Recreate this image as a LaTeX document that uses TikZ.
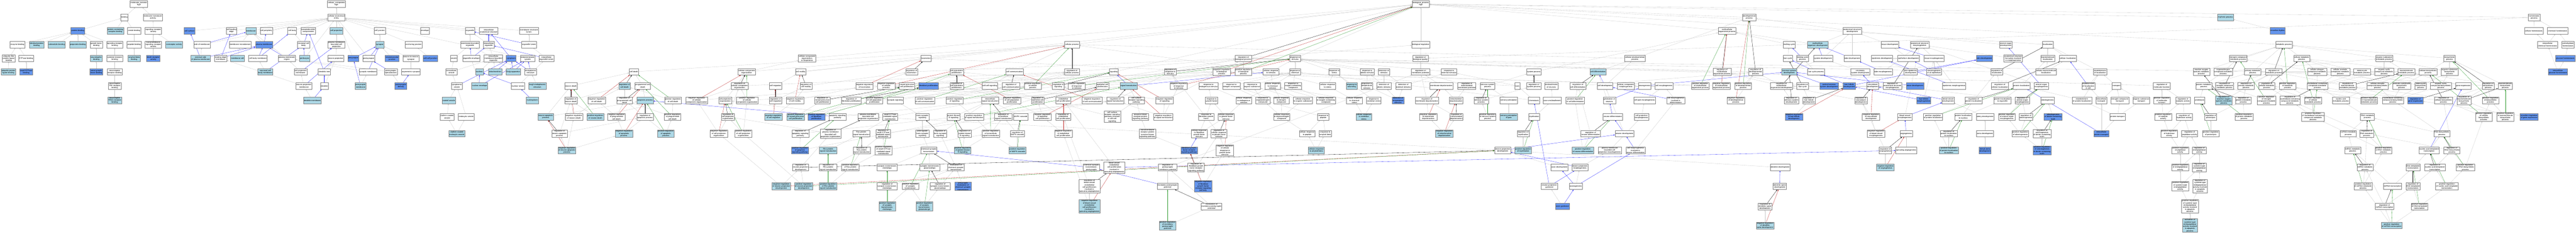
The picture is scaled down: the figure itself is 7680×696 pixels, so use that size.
\documentclass[tikz,border=0pt]{standalone}
\usepackage{fontspec}
\setmainfont{Liberation Sans}
\usetikzlibrary{shadows, arrows, positioning}
\definecolor{go_lightblue}{RGB}{173, 216, 230}
\definecolor{go_blue}{RGB}{100, 149, 237}
\definecolor{edge_gray}{RGB}{200, 200, 200}
\definecolor{edge_red}{RGB}{190, 40, 40}
\definecolor{edge_green}{RGB}{40, 150, 40}
\definecolor{edge_blue}{RGB}{40, 40, 255}
\tikzset {
  term/.style = {draw=black!50, line width=0.7pt, fill=white, align=center, minimum height=19pt, inner xsep=1.5pt, inner ysep=1pt, font=\fontsize{5.8}{6.5}\selectfont, drop shadow={shadow xshift=0.5pt, shadow yshift=-0.5pt, opacity=0.4}},
  lb/.style = {term, fill=go_lightblue},
  cf/.style = {term, fill=go_blue},
  isa/.style = {->, >=latex', line width=0.5pt, color=edge_gray},
  partof/.style = {isa, color=edge_blue},
  negreg/.style = {isa, color=edge_red},
  posreg/.style = {isa, color=edge_green},
  reg/.style = {isa, color=black}
}
\pgfdeclarelayer{background}
\pgfsetlayers{background,main}
\begin{document}
\begin{tikzpicture}[x=1pt, y=1pt]
  \useasboundingbox (0,0) rectangle (7680,-696);
  % molecular function
  \node[term] (mf) at (414,-12) {molecular\_function\\Ngfr};
  \node[term] (bind) at (371,-52) {binding};
  \node[term] (mtra) at (456,-52) {molecular transducer\\activity};
  \node[cf] (pbind) at (232,-92) {protein binding};
  \node[lb] (pcbind) at (344,-92) {protein-containing\\complex binding};
  \node[term] (amid) at (400,-92) {amide binding};
  \node[term] (sra) at (457,-92) {signaling receptor\\activity};
  \node[term] (enzb) at (52,-133) {enzyme binding};
  \node[lb] (idpb) at (109,-133) {identical protein\\binding};
  \node[lb] (calm) at (169,-133) {calmodulin binding};
  \node[lb] (prepb) at (232,-133) {preprotein binding};
  \node[term] (gfb) at (287,-133) {growth factor\\binding};
  \node[term] (srb) at (342,-133) {signaling receptor\\binding};
  \node[term] (pepb) at (400,-133) {peptide binding};
  \node[term] (tmsra) at (457,-133) {transmembrane\\signaling receptor\\activity};
  \node[lb] (corec) at (519,-133) {coreceptor activity};
  \node[term] (ubl) at (26,-174) {ubiquitin-like\\protein ligase\\binding};
  \node[term] (gtpb) at (78,-174) {GTPase binding};
  \node[lb] (ntb) at (287,-174) {neurotrophin\\binding};
  \node[term] (crb) at (342,-174) {cytokine receptor\\binding};
  \node[lb] (abb) at (400,-174) {amyloid-beta\\binding};
  \node[cf] (drec) at (457,-174) {death receptor\\activity};
  \node[lb] (upl) at (25,-214) {ubiquitin protein\\ligase binding};
  \node[cf] (sgtp) at (78,-214) {small GTPase\\binding};
  \node[cf] (ngfb) at (287,-214) {nerve growth\\factor binding};
  \node[term] (ntrb) at (342,-214) {neurotrophin\\receptor binding};
  \node[term] (trkb) at (342,-256) {neurotrophin\\TRK receptor\\binding};
  \node[lb] (trka) at (342,-299) {neurotrophin\\TRKA receptor\\binding};
  % cellular component
  \node[term] (cc) at (1003,-12) {cellular\_component\\Ngfr};
  \node[term] (cae) at (1003,-52) {cellular anatomical\\entity};
  \node[cf] (csurf) at (565,-92) {cell surface};
  \node[term] (cle) at (690,-92) {cell leading\\edge};
  \node[lb] (memb) at (748,-92) {membrane};
  \node[term] (cper) at (794,-92) {cell periphery};
  \node[term] (cbody) at (871,-92) {cell body};
  \node[term] (somd) at (919,-92) {somatodendritic\\compartment};
  \node[lb] (cproj) at (1003,-92) {cell projection};
  \node[term] (cjun) at (1132,-92) {cell junction};
  \node[term] (envl) at (1267,-92) {envelope};
  \node[term] (orgl) at (1401,-92) {organelle};
  \node[term] (ias) at (1457,-92) {intracellular\\anatomical structure};
  \node[term] (mel) at (1577,-92) {membrane-enclosed\\lumen};
  \node[term] (sidem) at (602,-133) {side of membrane};
  \node[term] (mmd) at (716,-133) {membrane microdomain};
  \node[cf] (pm) at (787,-133) {plasma membrane};
  \node[term] (ncb) at (905,-133) {neuronal cell\\body};
  \node[term] (pmbcp) at (1003,-133) {plasma membrane\\bounded cell\\projection};
  \node[lb] (syn) at (1132,-133) {synapse};
  \node[term] (anch) at (1233,-133) {anchoring junction};
  \node[term] (mbo) at (1401,-133) {membrane-bounded\\organelle};
  \node[term] (iorg) at (1457,-133) {intracellular\\organelle};
  \node[term] (orglum) at (1577,-133) {organelle lumen};
  \node[lb] (espm) at (598,-174) {external side\\of plasma membrane};
  \node[term] (lem) at (658,-174) {leading edge\\membrane};
  \node[lb] (mraft) at (708,-174) {membrane raft};
  \node[term] (cbm) at (769,-174) {cell body membrane};
  \node[term] (pmr) at (855,-174) {plasma membrane\\region};
  \node[lb] (peri) at (908,-174) {perikaryon};
  \node[term] (nproj) at (1001,-174) {neuron projection};
  \node[cf] (presyn) at (1053,-174) {presynapse};
  \node[term] (postsyn) at (1099,-174) {postsynapse};
  \node[cf] (nmj) at (1169,-174) {neuromuscular\\junction};
  \node[term] (n2n) at (1225,-174) {neuron to neuron\\synapse};
  \node[cf] (ccj) at (1283,-174) {cell-cell junction};
  \node[term] (ves) at (1353,-174) {vesicle};
  \node[term] (oenv) at (1405,-174) {organelle envelope};
  \node[term] (imbo) at (1471,-174) {intracellular\\membrane-bounded\\organelle};
  \node[cf] (cyto) at (1524,-174) {cytoplasm};
  \node[term] (endo) at (1573,-174) {endomembrane\\system};
  \node[term] (iol) at (1629,-174) {intracellular\\organelle lumen};
  \node[lb] (ncbm) at (791,-214) {neuronal cell\\body membrane};
  \node[term] (cpm) at (896,-214) {cell projection\\membrane};
  \node[term] (dtree) at (967,-214) {dendritic tree};
  \node[term] (synm) at (1097,-214) {synaptic membrane};
  \node[term] (pss) at (1165,-214) {postsynaptic\\specialization};
  \node[term] (asyn) at (1225,-214) {asymmetric synapse};
  \node[term] (ives) at (1346,-214) {intracellular\\vesicle};
  \node[lb] (nucl) at (1429,-214) {nucleus};
  \node[lb] (mito) at (1476,-214) {mitochondrion};
  \node[lb] (golgi) at (1530,-214) {Golgi apparatus};
  \node[term] (er) at (1582,-214) {endoplasmic\\reticulum};
  \node[term] (npm) at (906,-256) {neuron projection\\membrane};
  \node[term] (dend) at (967,-256) {dendrite};
  \node[lb] (psm) at (1075,-256) {presynaptic\\membrane};
  \node[cf] (psd) at (1195,-256) {postsynaptic\\density};
  \node[term] (cves) at (1362,-256) {cytoplasmic\\vesicle};
  \node[lb] (nenv) at (1430,-256) {nuclear envelope};
  \node[term] (nlum) at (1544,-256) {nuclear lumen};
  \node[lb] (rer) at (1602,-256) {rough endoplasmic\\reticulum};
  \node[lb] (dmem) at (931,-299) {dendrite membrane};
  \node[lb] (coves) at (1338,-299) {coated vesicle};
  \node[lb] (nplasm) at (1587,-299) {nucleoplasm};
  \node[term] (ccv) at (1333,-348) {clathrin-coated\\vesicle};
  \node[term] (endv) at (1390,-348) {endocytic vesicle};
  \node[lb] (ccev) at (1362,-398) {clathrin-coated\\endocytic vesicle};
  % biological process, upper rows
  \node[term] (bp) at (4236,-12) {biological\_process\\Ngfr};
  \node[term] (devp) at (5215,-52) {developmental\\process};
  \node[lb] (rhyth) at (6635,-52) {rhythmic process};
  \node[term] (homeo) at (7555,-52) {homeostatic\\process};
  \node[term] (mop) at (5149,-92) {multicellular\\organismal process};
  \node[term] (asd) at (5522,-92) {anatomical structure\\development};
  \node[cf] (circ) at (6790,-92) {circadian rhythm};
  \node[term] (chom) at (7554,-92) {cellular homeostasis};
  \node[term] (chemh) at (7625,-92) {chemical homeostasis};
  \node[term] (cp) at (3196,-133) {cellular process};
  \node[term] (breg) at (4236,-133) {biological regulation};
  \node[term] (molt) at (5334,-133) {molting cycle};
  \node[lb] (mod) at (5419,-133) {multicellular\\organism development};
  \node[term] (tisd) at (5634,-133) {tissue development};
  \node[term] (asm) at (5723,-133) {anatomical structure\\morphogenesis};
  \node[term] (aod) at (5980,-133) {animal organ\\development};
  \node[term] (loc) at (6105,-133) {localization};
  \node[term] (metp) at (6809,-133) {metabolic process};
  \node[term] (ichem) at (7595,-133) {intracellular\\chemical homeostasis};
  \node[term] (carbh) at (7656,-133) {carbohydrate\\homeostasis};
  \node[term] (ccob) at (2406,-174) {cellular component\\organization\\or biogenesis};
  \node[term] (locom) at (2761,-174) {locomotion};
  \node[term] (rbp) at (3707,-174) {regulation of\\biological process};
  \node[term] (rts) at (3861,-174) {response to\\stimulus};
  \node[term] (rbq) at (4235,-174) {regulation of\\biological quality};
  \node[term] (cdp) at (4874,-174) {cellular developmental\\process};
  \node[term] (hairc) at (5330,-174) {hair cycle};
  \node[term] (mcp) at (5374,-174) {molting cycle\\process};
  \node[term] (sysd) at (5435,-174) {system development};
  \node[term] (tubed) at (5522,-174) {tube development};
  \node[term] (epid) at (5611,-174) {epidermis development};
  \node[term] (epit) at (5690,-174) {epithelium development};
  \node[term] (tism) at (5766,-174) {tissue morphogenesis};
  \node[cf] (skin) at (5916,-174) {skin development};
  \node[term] (asfm) at (6002,-174) {anatomical structure\\formation involved\\in morphogenesis};
  \node[term] (mloc) at (6105,-174) {macromolecule\\localization};
  \node[term] (cloc) at (6165,-174) {cellular localization};
  \node[term] (ncmp) at (6673,-174) {nitrogen compound\\metabolic process};
  \node[term] (cmp) at (6862,-174) {cellular metabolic\\process};
  \node[term] (osmp) at (7108,-174) {organic substance\\metabolic process};
  \node[term] (biosyn) at (7303,-174) {biosynthetic\\process};
  \node[cf] (glch) at (7648,-174) {glucose homeostasis};
  % row 5
  \node[term] (cdeath) at (1890,-214) {cell death};
  \node[term] (ccorg) at (2226,-214) {cellular component\\organization};
  \node[term] (cmot) at (2387,-214) {cell motility};
  \node[term] (rloc) at (2718,-214) {regulation of\\locomotion};
  \node[term] (cpp) at (2852,-214) {cell population\\proliferation};
  \node[term] (ccom) at (3025,-214) {cell communication};
  \node[term] (rcp) at (3196,-214) {regulation of\\cellular process};
  \node[term] (sig) at (3321,-214) {signaling};
  \node[term] (rrs) at (3489,-214) {regulation of\\response to\\stimulus};
  \node[term] (nrbp) at (3642,-214) {negative regulation\\of biological\\process};
  \node[term] (prbp) at (3707,-214) {positive regulation\\of biological\\process};
  \node[term] (crs) at (3789,-214) {cellular response\\to stimulus};
  \node[term] (rchem) at (3861,-214) {response to\\chemical};
  \node[term] (rstress) at (3978,-214) {response to\\stress};
  \node[term] (rabio) at (4076,-214) {response to\\abiotic stimulus};
  \node[term] (dstim) at (4126,-214) {detection of\\stimulus};
  \node[term] (rmp) at (4235,-214) {regulation of\\membrane potential};
  \node[term] (rext) at (4320,-214) {response to\\external stimulus};
  \node[term] (sysp) at (4573,-214) {system process};
  \node[lb] (cdiff) at (4764,-214) {cell differentiation};
  \node[term] (rmop) at (5134,-214) {regulation of\\multicellular\\organismal process};
  \node[term] (rdevp) at (5234,-214) {regulation of\\developmental\\process};
  \node[lb] (nsd) at (5334,-214) {nervous system\\development};
  \node[term] (hcp) at (5414,-214) {hair cycle process};
  \node[term] (csd) at (5546,-214) {circulatory\\system development};
  \node[term] (tubem) at (5614,-214) {tube morphogenesis};
  \node[term] (sepd) at (5696,-214) {skin epidermis\\development};
  \node[term] (moe) at (5766,-214) {morphogenesis\\of an epithelium};
  \node[term] (rloc2) at (5953,-214) {regulation of\\localization};
  \node[term] (cml) at (6100,-214) {cellular macromolecule\\localization};
  \node[term] (eloc) at (6261,-214) {establishment\\of localization};
  \node[term] (rosmp) at (6563,-214) {reactive oxygen\\species metabolic\\process};
  \node[term] (oncmp) at (6628,-214) {organonitrogen\\compound metabolic\\process};
  \node[term] (pmp) at (6716,-214) {primary metabolic\\process};
  \node[term] (rmetp) at (6779,-214) {regulation of\\metabolic process};
  \node[term] (cncmp) at (6908,-214) {cellular nitrogen\\compound metabolic\\process};
  \node[term] (cacmp) at (6977,-214) {cellular aromatic\\compound metabolic\\process};
  \node[term] (hmp) at (7042,-214) {heterocycle\\metabolic process};
  \node[term] (occmp) at (7108,-214) {organic cyclic\\compound metabolic\\process};
  \node[term] (mmp) at (7174,-214) {macromolecule\\metabolic process};
  \node[term] (cbp) at (7239,-214) {cellular biosynthetic\\process};
  \node[term] (osbp) at (7303,-214) {organic substance\\biosynthetic\\process};
  \node[cf] (iglch) at (7626,-214) {intracellular\\glucose homeostasis};
  % row 6
  \node[term] (ndeath) at (1702,-256) {neuron death};
  \node[lb] (rcd) at (1862,-256) {regulation of\\cell death};
  \node[term] (pcd) at (1916,-256) {programmed cell\\death};
  \node[term] (rccorg) at (2205,-256) {regulation of\\cellular component\\organization};
  \node[term] (cmig) at (2312,-256) {cell migration};
  \node[term] (rcmot) at (2403,-256) {regulation of\\cell motility};
  \node[term] (nrloc) at (2577,-256) {negative regulation\\of locomotion};
  \node[term] (nrcp) at (2642,-256) {negative regulation\\of cellular\\process};
  \node[term] (npcp) at (2704,-256) {neural precursor\\cell proliferation};
  \node[cf] (fibp) at (2768,-256) {fibroblast proliferation};
  \node[term] (rcpp) at (2852,-256) {regulation of\\cell population\\proliferation};
  \node[term] (ccsig) at (2951,-256) {cell-cell signaling};
  \node[term] (rccom) at (3014,-256) {regulation of\\cell communication};
  \node[term] (prcp) at (3079,-256) {positive regulation\\of cellular\\process};
  \node[term] (rsig) at (3155,-256) {regulation of\\signaling};
  \node[term] (prrs) at (3210,-256) {positive regulation\\of response\\to stimulus};
  \node[term] (epp) at (3287,-256) {epithelial cell\\proliferation};
  \node[lb] (st) at (3365,-256) {signal transduction};
  \node[term] (nrrs) at (3514,-256) {negative regulation\\of response\\to stimulus};
  \node[term] (rendo) at (3603,-256) {response to\\endogenous stimulus};
  \node[term] (rnc) at (3671,-256) {response to\\nitrogen compound};
  \node[term] (ros) at (3733,-256) {response to\\organic substance};
  \node[term] (crcs) at (3794,-256) {cellular response\\to chemical\\stimulus};
  \node[term] (rocc) at (3855,-256) {response to\\oxygen-containing\\compound};
  \node[term] (crst) at (3958,-256) {cellular response\\to stress};
  \node[lb] (rwound) at (4030,-256) {response to\\wounding};
  \node[term] (rtemp) at (4075,-256) {response to\\temperature\\stimulus};
  \node[term] (dabio) at (4126,-256) {detection of\\abiotic stimulus};
  \node[term] (dext) at (4184,-256) {detection of\\external stimulus};
  \node[term] (mdep) at (4297,-256) {membrane depolarization};
  \node[term] (rmmp) at (4373,-256) {regulation of\\mitochondrial\\membrane potential};
  \node[term] (nsp) at (4435,-256) {nervous system\\process};
  \node[term] (taxis) at (4524,-256) {taxis};
  \node[term] (rsysp) at (4573,-256) {regulation of\\system process};
  \node[term] (ensh) at (4625,-256) {ensheathment\\of neurons};
  \node[term] (rcdiff) at (4704,-256) {regulation of\\cell differentiation};
  \node[term] (cdev) at (4785,-256) {cell development};
  \node[term] (ccm) at (4847,-256) {cellular component\\morphogenesis};
  \node[term] (neurog) at (4903,-256) {neurogenesis};
  \node[term] (cmorph) at (4961,-256) {cell morphogenesis};
  \node[term] (prmop) at (5069,-256) {positive regulation\\of multicellular\\organismal process};
  \node[term] (nrmop) at (5132,-256) {negative regulation\\of multicellular\\organismal process};
  \node[term] (prdevp) at (5197,-256) {positive regulation\\of developmental\\process};
  \node[term] (rmod) at (5311,-256) {regulation of\\multicellular\\organismal development};
  \node[term] (rhc) at (5374,-256) {regulation of\\hair cycle};
  \node[cf] (cnsd) at (5453,-256) {central nervous\\system development};
  \node[cf] (hfd) at (5513,-256) {hair follicle\\development};
  \node[term] (vascd) at (5583,-256) {vasculature\\development};
  \node[term] (rasm) at (5642,-256) {regulation of\\anatomical structure\\morphogenesis};
  \node[cf] (nerved) at (5709,-256) {nerve development};
  \node[term] (epim) at (5826,-256) {epidermis morphogenesis};
  \node[term] (rcloc) at (5962,-256) {regulation of\\cellular localization};
  \node[term] (ploc) at (6027,-256) {protein localization};
  \node[term] (aom) at (6086,-256) {animal organ\\morphogenesis};
  \node[term] (elic) at (6226,-256) {establishment\\of localization\\in cell};
  \node[term] (transp) at (6310,-256) {transport};
  \node[term] (rmf) at (6445,-256) {regulation of\\molecular function};
  \node[term] (protmp) at (6570,-256) {protein metabolic\\process};
  \node[term] (rncmp) at (6632,-256) {regulation of\\nitrogen compound\\metabolic process};
  \node[term] (rpmp) at (6696,-256) {regulation of\\primary metabolic\\process};
  \node[term] (rcmp) at (6758,-256) {regulation of\\cellular metabolic\\process};
  \node[term] (prmetp) at (6820,-256) {positive regulation\\of metabolic\\process};
  \node[term] (nbcmp) at (6909,-256) {nucleobase-containing\\compound metabolic\\process};
  \node[term] (rmmp2) at (6999,-256) {regulation of\\macromolecule\\metabolic process};
  \node[term] (cncbp) at (7088,-256) {cellular nitrogen\\compound biosynthetic\\process};
  \node[term] (acbp) at (7160,-256) {aromatic compound\\biosynthetic\\process};
  \node[term] (hbp) at (7217,-256) {heterocycle\\biosynthetic\\process};
  \node[term] (occbp) at (7277,-256) {organic cyclic\\compound biosynthetic\\process};
  \node[term] (gexp) at (7344,-256) {gene expression};
  \node[term] (rbiosyn) at (7418,-256) {regulation of\\biosynthetic\\process};
  \node[term] (mbp) at (7469,-256) {macromolecule\\biosynthetic\\process};
  % row 7
  \node[term] (rnd) at (1702,-299) {regulation of\\neuron death};
  \node[term] (nrcd) at (1779,-299) {negative regulation\\of cell death};
  \node[term] (rpcd) at (1862,-299) {regulation of\\programmed cell\\death};
  \node[lb] (apop) at (1923,-299) {apoptotic process};
  \node[term] (prcd) at (2006,-299) {positive regulation\\of cell death};
  \node[term] (nrccorg) at (2077,-299) {negative regulation\\of cellular\\component organization};
  \node[term] (cpo) at (2162,-299) {cell projection\\organization};
  \node[term] (prccorg) at (2227,-299) {positive regulation\\of cellular\\component organization};
  \node[term] (rcmig) at (2312,-299) {regulation of\\cell migration};
  \node[term] (nrcmot) at (2370,-299) {negative regulation\\of cell motility};
  \node[term] (rnpcp) at (2452,-299) {regulation of\\neural precursor\\cell proliferation};
  \node[term] (rfibp) at (2538,-299) {regulation of\\fibroblast proliferation};
  \node[term] (prcpp) at (2607,-299) {positive regulation\\of cell population\\proliferation};
  \node[term] (synsig) at (2669,-299) {synaptic signaling};
  \node[term] (prccom) at (2757,-299) {positive regulation\\of cell communication};
  \node[term] (prsig) at (2846,-299) {positive regulation\\of signaling};
  \node[term] (ist) at (2952,-299) {intracellular\\signal transduction};
  \node[term] (nrcpp) at (3017,-299) {negative regulation\\of cell population\\proliferation};
  \node[term] (repp) at (3094,-299) {regulation of\\epithelial cell\\proliferation};
  \node[term] (endp) at (3170,-299) {endothelial\\cell proliferation};
  \node[term] (nrccom) at (3256,-299) {negative regulation\\of cell communication};
  \node[term] (rst) at (3325,-299) {regulation of\\signal transduction};
  \node[term] (csrsp) at (3388,-299) {cell surface\\receptor signaling\\pathway};
  \node[term] (nrsig) at (3472,-299) {negative regulation\\of signaling};
  \node[term] (rgf) at (3612,-299) {response to\\growth factor};
  \node[term] (crendo) at (3708,-299) {cellular response\\to endogenous\\stimulus};
  \node[term] (rongc) at (3765,-299) {response to\\organonitrogen\\compound};
  \node[term] (crnc) at (3820,-299) {cellular response\\to nitrogen\\compound};
  \node[term] (cros) at (3884,-299) {cellular response\\to organic substance};
  \node[term] (crocc) at (3953,-299) {cellular response\\to oxygen-containing\\compound};
  \node[term] (crchs) at (4038,-299) {cellular response\\to chemical\\stress};
  \node[term] (roxs) at (4096,-299) {response to\\oxidative stress};
  \node[cf] (dtemp) at (4168,-299) {detection of\\temperature\\stimulus};
  \node[term] (rmdep) at (4254,-299) {regulation of\\membrane depolarization};
  \node[term] (mitod) at (4341,-299) {mitochondrial\\depolarization};
  \node[term] (rnsp) at (4416,-299) {regulation of\\nervous system\\process};
  \node[term] (sensp) at (4498,-299) {sensory perception};
  \node[term] (chemot) at (4573,-299) {chemotaxis};
  \node[term] (axens) at (4628,-299) {axon ensheathment};
  \node[term] (prcdiff) at (4696,-299) {positive regulation\\of cell differentiation};
  \node[term] (genn) at (4798,-299) {generation of\\neurons};
  \node[term] (cpm2) at (4903,-299) {cell part morphogenesis};
  \node[term] (cmid) at (4996,-299) {cell morphogenesis\\involved in\\differentiation};
  \node[term] (nrdevp) at (5175,-299) {negative regulation\\of developmental\\process};
  \node[term] (rnsd) at (5341,-299) {regulation of\\nervous system\\development};
  \node[term] (rhfd) at (5393,-299) {regulation of\\hair follicle\\development};
  \node[term] (rvascd) at (5548,-299) {regulation of\\vasculature\\development};
  \node[cf] (hfm) at (5735,-299) {hair follicle\\morphogenesis};
  \node[term] (bvd) at (5808,-299) {blood vessel\\development};
  \node[term] (rploc) at (5884,-299) {regulation of\\protein localization};
  \node[term] (plo) at (5970,-299) {protein localization\\to organelle};
  \node[term] (raom) at (6029,-299) {regulation of\\animal organ\\morphogenesis};
  \node[term] (odont) at (6104,-299) {odontogenesis};
  \node[term] (eploc) at (6207,-299) {establishment\\of protein localization};
  \node[term] (itrans) at (6265,-299) {intracellular\\transport};
  \node[term] (nctrans) at (6320,-299) {nitrogen compound\\transport};
  \node[term] (ostrans) at (6384,-299) {organic substance\\transport};
  \node[term] (prmf) at (6445,-299) {positive regulation\\of molecular\\function};
  \node[term] (rcat) at (6508,-299) {regulation of\\catalytic activity};
  \node[term] (proteol) at (6558,-299) {proteolysis};
  \node[lb] (rrosmp) at (6630,-299) {regulation of\\reactive oxygen\\species metabolic\\process};
  \node[term] (rprotmp) at (6688,-299) {regulation of\\protein metabolic\\process};
  \node[term] (prncmp) at (6757,-299) {positive regulation\\of nitrogen\\compound metabolic\\process};
  \node[term] (rnbcmp) at (6827,-299) {regulation of\\nucleobase-containing\\compound metabolic\\process};
  \node[term] (prcmp) at (6896,-299) {positive regulation\\of cellular\\metabolic process};
  \node[term] (nametp) at (6979,-299) {nucleic acid\\metabolic process};
  \node[term] (prmmp) at (7063,-299) {positive regulation\\of macromolecule\\metabolic process};
  \node[term] (nbcbp) at (7134,-299) {nucleobase-containing\\compound biosynthetic\\process};
  \node[cf] (rgexp) at (7201,-299) {regulation of\\gene expression};
  \node[term] (rcbp) at (7285,-299) {regulation of\\cellular biosynthetic\\process};
  \node[term] (rmbp) at (7346,-299) {regulation of\\macromolecule\\biosynthetic\\process};
  \node[term] (prbiosyn) at (7425,-299) {positive regulation\\of biosynthetic\\process};
  % row 8
  \node[lb] (nap) at (1627,-348) {neuron apoptotic\\process};
  \node[term] (nrnd) at (1711,-348) {negative regulation\\of neuron death};
  \node[lb] (prnd) at (1775,-348) {positive regulation\\of neuron death};
  \node[term] (nrpcd) at (1838,-348) {negative regulation\\of programmed\\cell death};
  \node[term] (rap) at (1923,-348) {regulation of\\apoptotic process};
  \node[term] (prpcd) at (2005,-348) {positive regulation\\of programmed\\cell death};
  \node[term] (rcpo) at (2170,-348) {regulation of\\cell projection\\organization};
  \node[lb] (nrcmig) at (2306,-348) {negative regulation\\of cell migration};
  \node[lb] (prnpcp) at (2372,-348) {positive regulation\\of neural precursor\\cell proliferation};
  \node[cf] (prfibp) at (2434,-348) {positive regulation\\of fibroblast\\proliferation};
  \node[term] (asp) at (2497,-348) {apoptotic signaling\\pathway};
  \node[term] (pmbcpo) at (2588,-348) {plasma membrane\\bounded cell\\projection organization};
  \node[term] (sgmst) at (2654,-348) {small GTPase\\mediated signal\\transduction};
  \node[term] (tss) at (2750,-348) {trans-synaptic\\signaling};
  \node[term] (pkb) at (2843,-348) {protein kinase\\B signaling};
  \node[term] (prst) at (2904,-348) {positive regulation\\of signal transduction};
  \node[term] (rist) at (2991,-348) {regulation of\\intracellular\\signal transduction};
  \node[term] (mapk) at (3043,-348) {MAPK cascade};
  \node[term] (nrepp) at (3108,-348) {negative regulation\\of epithelial\\cell proliferation};
  \node[term] (rendp) at (3170,-348) {regulation of\\endothelial\\cell proliferation};
  \node[term] (csrccs) at (3316,-348) {cell surface\\receptor signaling\\pathway involved\\in cell-cell\\signaling};
  \node[term] (elrp) at (3400,-348) {enzyme-linked\\receptor protein\\signaling pathway};
  \node[term] (nrst) at (3468,-348) {negative regulation\\of signal transduction};
  \node[term] (rfgf) at (3596,-348) {response to\\fibroblast growth\\factor};
  \node[term] (crgf) at (3655,-348) {cellular response\\to growth factor\\stimulus};
  \node[term] (crongc) at (3821,-348) {cellular response\\to organonitrogen\\compound};
  \node[term] (rpep) at (3945,-348) {response to\\peptide};
  \node[lb] (croxs) at (4066,-348) {cellular response\\to oxidative\\stress};
  \node[term] (nrmdep) at (4258,-348) {negative regulation\\of membrane\\depolarization};
  \node[term] (rmitod) at (4342,-348) {regulation of\\mitochondrial\\depolarization};
  \node[term] (prnsp) at (4435,-348) {positive regulation\\of nervous system\\process};
  \node[lb] (spain) at (4498,-348) {sensory perception\\of pain};
  \node[term] (myel) at (4574,-348) {myelination};
  \node[term] (ndiff) at (4808,-348) {neuron differentiation};
  \node[term] (cpmorph) at (4894,-348) {cell projection\\morphogenesis};
  \node[cf] (nrhfd) at (5348,-348) {negative regulation\\of hair follicle\\development};
  \node[term] (nrvascd) at (5578,-348) {negative regulation\\of vasculature\\development};
  \node[term] (bvm) at (5679,-348) {blood vessel\\morphogenesis};
  \node[term] (prploc) at (5763,-348) {positive regulation\\of protein localization};
  \node[term] (plnuc) at (5853,-348) {protein localization\\to nucleus};
  \node[term] (artd) at (5918,-348) {artery development};
  \node[term] (praom) at (5983,-348) {positive regulation\\of animal organ\\morphogenesis};
  \node[term] (rodont) at (6040,-348) {regulation of\\odontogenesis};
  \node[cf] (odt) at (6121,-348) {odontogenesis\\of dentin-containing\\tooth};
  \node[term] (ptrans) at (6313,-348) {protein transport};
  \node[term] (prcat) at (6449,-348) {positive regulation\\of catalytic\\activity};
  \node[term] (rhyd) at (6512,-348) {regulation of\\hydrolase activity};
  \node[term] (rproteol) at (6591,-348) {regulation of\\proteolysis};
  \node[term] (prprotmp) at (6690,-348) {positive regulation\\of protein metabolic\\process};
  \node[term] (prnbcmp) at (6896,-348) {positive regulation\\of nucleobase-containing\\compound metabolic\\process};
  \node[term] (rnamp) at (7058,-348) {RNA metabolic\\process};
  \node[term] (prcbp) at (7405,-348) {positive regulation\\of cellular\\biosynthetic\\process};
  \node[term] (prmbp) at (7469,-348) {positive regulation\\of macromolecule\\biosynthetic\\process};
  \node[cf] (crgexp) at (7540,-348) {circadian regulation\\of gene expression};
  % row 9
  \node[term] (rnap) at (1668,-398) {regulation of\\neuron apoptotic\\process};
  \node[lb] (nrap) at (1860,-398) {negative regulation\\of apoptotic\\process};
  \node[lb] (prap) at (1985,-398) {positive regulation\\of apoptotic\\process};
  \node[term] (nrcpo) at (2143,-398) {negative regulation\\of cell projection\\organization};
  \node[term] (prcpo) at (2216,-398) {positive regulation\\of cell projection\\organization};
  \node[term] (rasp) at (2386,-398) {regulation of\\apoptotic signaling\\pathway};
  \node[term] (rpmbcpo) at (2476,-398) {regulation of\\plasma membrane\\bounded cell\\projection organization};
  \node[term] (rasst) at (2568,-398) {Ras protein\\signal transduction};
  \node[term] (rsgmst) at (2633,-398) {regulation of\\small GTPase\\mediated signal\\transduction};
  \node[term] (atss) at (2750,-398) {anterograde\\trans-synaptic\\signaling};
  \node[term] (rtss) at (2803,-398) {regulation of\\trans-synaptic\\signaling};
  \node[term] (rpkb) at (2876,-398) {regulation of\\protein kinase\\B signaling};
  \node[term] (prist) at (2954,-398) {positive regulation\\of intracellular\\signal transduction};
  \node[term] (rmapk) at (3033,-398) {regulation of\\MAPK cascade};
  \node[term] (nrendp) at (3170,-398) {negative regulation\\of endothelial\\cell proliferation};
  \node[term] (rtkp) at (3421,-398) {transmembrane\\receptor protein\\tyrosine kinase\\signaling pathway};
  \node[term] (crfgf) at (3575,-398) {cellular response\\to fibroblast\\growth factor\\stimulus};
  \node[term] (rcrgf) at (3634,-398) {regulation of\\cellular response\\to growth factor\\stimulus};
  \node[term] (crpep) at (3897,-398) {cellular response\\to peptide};
  \node[term] (rab) at (3951,-398) {response to\\amyloid-beta};
  \node[lb] (nrmitod) at (4306,-398) {negative regulation\\of mitochondrial\\depolarization};
  \node[term] (rmyel) at (4541,-398) {regulation of\\myelination};
  \node[term] (rndiff) at (4742,-398) {regulation of\\neuron differentiation};
  \node[term] (ndev) at (4843,-398) {neuron development};
  \node[term] (nrbvm) at (5593,-398) {negative regulation\\of blood vessel\\morphogenesis};
  \node[term] (angio) at (5683,-398) {angiogenesis};
  \node[term] (rplnuc) at (5810,-398) {regulation of\\protein localization\\to nucleus};
  \node[term] (aortd) at (5918,-398) {aorta development};
  \node[term] (prodont) at (6023,-398) {positive regulation\\of odontogenesis};
  \node[term] (rodt) at (6088,-398) {regulation of\\odontogenesis\\of dentin-containing\\tooth};
  \node[cf] (iptrans) at (6265,-398) {intracellular\\protein transport};
  \node[term] (prhyd) at (6467,-398) {positive regulation\\of hydrolase\\activity};
  \node[term] (rpept) at (6528,-398) {regulation of\\peptidase activity};
  \node[term] (prproteol) at (6591,-398) {positive regulation\\of proteolysis};
  \node[term] (ncrna) at (7001,-398) {ncRNA metabolic\\process};
  \node[term] (rrnamp) at (7056,-398) {regulation of\\RNA metabolic\\process};
  \node[term] (rnabp) at (7280,-398) {RNA biosynthetic\\process};
  % row 10
  \node[lb] (nrnap) at (1690,-448) {negative regulation\\of neuron apoptotic\\process};
  \node[cf] (prasp) at (2385,-448) {positive regulation\\of apoptotic\\signaling pathway};
  \node[lb] (rhopst) at (2469,-448) {Rho protein\\signal transduction};
  \node[term] (rrasst) at (2569,-448) {regulation of\\Ras protein\\signal transduction};
  \node[term] (prsgmst) at (2634,-448) {positive regulation\\of small GTPase\\mediated signal\\transduction};
  \node[term] (cst) at (2769,-448) {chemical synaptic\\transmission};
  \node[lb] (prpkb) at (2870,-448) {positive regulation\\of protein kinase\\B signaling};
  \node[lb] (prmapk) at (3033,-448) {positive regulation\\of MAPK cascade};
  \node[cf] (fgfsp) at (3545,-448) {fibroblast growth\\factor receptor\\signaling pathway};
  \node[term] (nrcrgf) at (3652,-448) {negative regulation\\of cellular\\response to\\growth factor\\stimulus};
  \node[lb] (crab) at (3924,-448) {cellular response\\to amyloid-beta};
  \node[term] (npd) at (4480,-448) {neuron projection\\development};
  \node[lb] (prmyel) at (4541,-448) {positive regulation\\of myelination};
  \node[lb] (prndiff) at (4719,-448) {positive regulation\\of neuron differentiation};
  \node[term] (pmbcpm) at (4799,-448) {plasma membrane\\bounded cell\\projection morphogenesis};
  \node[term] (cmind) at (4876,-448) {cell morphogenesis\\involved in\\neuron differentiation};
  \node[term] (rangio) at (5621,-448) {regulation of\\angiogenesis};
  \node[term] (sangio) at (5683,-448) {sprouting angiogenesis};
  \node[lb] (prplnuc) at (5810,-448) {positive regulation\\of protein localization\\to nucleus};
  \node[cf] (daortd) at (5918,-448) {dorsal aorta\\development};
  \node[cf] (prodt) at (6088,-448) {positive regulation\\of odontogenesis\\of dentin-containing\\tooth};
  \node[term] (prpept) at (6500,-448) {positive regulation\\of peptidase\\activity};
  \node[term] (rendpept) at (6557,-448) {regulation of\\endopeptidase\\activity};
  \node[term] (mirnamp) at (7014,-448) {miRNA metabolic\\process};
  \node[term] (prrnamp) at (7106,-448) {positive regulation\\of RNA metabolic\\process};
  \node[term] (natt) at (7242,-448) {nucleic acid-templated\\transcription};
  \node[term] (rrnabp) at (7310,-448) {regulation of\\RNA biosynthetic\\process};
  % row 11
  \node[term] (rnpd) at (2387,-499) {regulation of\\neuron projection\\development};
  \node[term] (rrhost) at (2469,-499) {regulation of\\Rho protein\\signal transduction};
  \node[term] (prrasst) at (2535,-499) {positive regulation\\of Ras protein\\signal transduction};
  \node[term] (stc) at (2645,-499) {synaptic transmission,\\cholinergic};
  \node[term] (stg) at (2772,-499) {synaptic transmission,\\glutamatergic};
  \node[term] (mcst) at (2850,-499) {modulation of\\chemical synaptic\\transmission};
  \node[term] (cstp) at (3254,-499) {chemical synaptic\\transmission,\\postsynaptic};
  \node[term] (bvecp) at (3322,-499) {blood vessel\\endothelial\\cell proliferation\\involved in\\sprouting angiogenesis};
  \node[term] (rpsmp) at (3481,-499) {regulation of\\postsynaptic\\membrane potential};
  \node[term] (rfgfsp) at (3566,-499) {regulation of\\fibroblast growth\\factor receptor\\signaling pathway};
  \node[term] (axdev) at (4649,-499) {axon development};
  \node[term] (npmorph) at (4710,-499) {neuron projection\\morphogenesis};
  \node[term] (dendd) at (5307,-499) {dendrite development};
  \node[lb] (nrangio) at (5621,-499) {negative regulation\\of angiogenesis};
  \node[term] (prendpept) at (6500,-499) {positive regulation\\of endopeptidase\\activity};
  \node[term] (rcysend) at (6557,-499) {regulation of\\cysteine-type\\endopeptidase\\activity};
  \node[term] (rmirnamp) at (7051,-499) {regulation of\\miRNA metabolic\\process};
  \node[term] (dtt) at (7194,-499) {DNA-templated\\transcription};
  \node[term] (rnatt) at (7259,-499) {regulation of\\nucleic acid-templated\\transcription};
  \node[term] (prrnabp) at (7350,-499) {positive regulation\\of RNA biosynthetic\\process};
  % row 12
  \node[lb] (nrnpd) at (2329,-555) {negative regulation\\of neuron projection\\development};
  \node[lb] (prnpd) at (2396,-555) {positive regulation\\of neuron projection\\development};
  \node[lb] (prrhost) at (2469,-555) {positive regulation\\of Rho protein\\signal transduction};
  \node[term] (rstc) at (2645,-555) {regulation of\\synaptic transmission,\\cholinergic};
  \node[term] (prst2) at (2714,-555) {positive regulation\\of synaptic\\transmission};
  \node[term] (rstg) at (2803,-555) {regulation of\\synaptic transmission,\\glutamatergic};
  \node[cf] (pmcst) at (2871,-555) {presynaptic\\modulation of\\chemical synaptic\\transmission};
  \node[term] (rbvecp) at (3248,-555) {regulation of\\blood vessel\\endothelial\\cell proliferation\\involved in\\sprouting angiogenesis};
  \node[term] (epsp) at (3481,-555) {excitatory postsynaptic\\potential};
  \node[cf] (nrfgfsp) at (3587,-555) {negative regulation\\of fibroblast\\growth factor\\receptor signaling\\pathway};
  \node[term] (npg) at (4619,-555) {neuron projection\\guidance};
  \node[term] (axg) at (4698,-555) {axonogenesis};
  \node[term] (dsd) at (5306,-555) {dendritic spine\\development};
  \node[term] (prcysend) at (6500,-555) {positive regulation\\of cysteine-type\\endopeptidase\\activity};
  \node[term] (rcysap) at (6559,-555) {regulation of\\cysteine-type\\endopeptidase\\activity involved\\in apoptotic\\process};
  \node[term] (prmirnamp) at (7045,-555) {positive regulation\\of miRNA metabolic\\process};
  \node[term] (mirnat) at (7133,-555) {miRNA transcription};
  \node[term] (rdtt) at (7194,-555) {regulation of\\DNA-templated\\transcription};
  \node[term] (prnatt) at (7295,-555) {positive regulation\\of nucleic acid-templated\\transcription};
  % rows 13 and 14
  \node[lb] (prstc) at (2645,-615) {positive regulation\\of synaptic\\transmission,\\cholinergic};
  \node[lb] (prstg) at (2756,-615) {positive regulation\\of synaptic\\transmission,\\glutamatergic};
  \node[lb] (nrbvecp) at (3248,-615) {negative regulation\\of blood vessel\\endothelial\\cell proliferation\\involved in\\sprouting angiogenesis};
  \node[term] (mepsp) at (3612,-615) {modulation of\\excitatory postsynaptic\\potential};
  \node[cf] (axguid) at (4658,-615) {axon guidance};
  \node[term] (rdsd) at (5262,-615) {regulation of\\dendritic spine\\development};
  \node[term] (prcysap) at (6529,-615) {positive regulation\\of cysteine-type\\endopeptidase\\activity involved\\in apoptotic\\process};
  \node[term] (rmirnat) at (7109,-615) {regulation of\\miRNA transcription};
  \node[term] (prdtt) at (7213,-615) {positive regulation\\of DNA-templated\\transcription};
  \node[lb] (prepsp) at (3481,-672) {positive regulation\\of excitatory\\postsynaptic\\potential};
  \node[lb] (nrdsd) at (5262,-672) {negative regulation\\of dendritic\\spine development};
  \node[lb] (actcys) at (6529,-672) {activation of\\cysteine-type\\endopeptidase\\activity involved\\in apoptotic\\process};
  \node[lb] (prmirnat) at (7130,-672) {positive regulation\\of miRNA transcription};

  \begin{pgfonlayer}{background}
  % is_a
  \foreach \a/\b in {bind/mf, mtra/mf, pbind/bind, pcbind/bind, amid/bind, sra/mtra, enzb/pbind, idpb/pbind, calm/pbind, prepb/pbind, gfb/pbind, srb/pbind, pepb/amid, tmsra/sra, corec/sra, ubl/enzb, gtpb/enzb, ntb/gfb, crb/srb, abb/pepb, drec/tmsra, upl/ubl, sgtp/gtpb, ngfb/ntb, ntrb/crb, trkb/ntrb, trka/trkb,
    cae/cc, csurf/cae, cle/cae, memb/cae, cper/cae, cbody/cae, somd/cae, cproj/cae, cjun/cae, envl/cae, orgl/cae, ias/cae, mel/cae, sidem/cae, endo/cae, peri/cae, presyn/cae, postsyn/cae, mmd/memb, pm/memb, pmr/memb, ncb/cbody, pmbcp/cproj, syn/cjun, anch/cjun, mbo/orgl, iorg/orgl, orglum/mel, espm/sidem, mraft/mmd, nproj/pmbcp, nmj/syn, n2n/syn, ccj/anch, ves/mbo, imbo/mbo, imbo/iorg, iol/orglum, ncbm/cbm, cpm/pmr, dtree/nproj, synm/pmr, pss/pmr, asyn/n2n, ives/ves, ives/imbo, nucl/imbo, mito/imbo, golgi/imbo, er/imbo, npm/cpm, npm/lem, dend/nproj, psm/synm, psd/pss, cves/ives, nenv/oenv, nlum/iol, rer/er, dmem/npm, coves/cves, ccv/coves, endv/cves, ccev/ccv, ccev/endv,
    breg/bp, cp/bp, devp/bp, mop/bp, rts/bp, locom/bp, loc/bp, metp/bp, homeo/bp, rhyth/bp, ccob/bp, sig/bp, rbp/breg, rbq/breg, nrbp/rbp, prbp/rbp,
    ccorg/ccob, ccorg/cp, cdeath/cp, cmot/locom, cmot/cp, cpp/cp, ccom/cp, crs/cp, rcp/rbp, nrcp/rcp, nrcp/nrbp, prcp/rcp, prcp/prbp, rloc/rbp, nrloc/rloc, nrloc/nrbp,
    rcpp/rcp, nrcpp/rcpp, nrcpp/nrcp, prcpp/rcpp, prcpp/prcp, npcp/cpp, fibp/cpp, epp/cpp, endp/epp, rnpcp/rcpp, prnpcp/rnpcp, prnpcp/prcpp, rfibp/rcpp, prfibp/rfibp, prfibp/prcpp, repp/rcpp, nrepp/repp, nrepp/nrcpp, rendp/repp, nrendp/rendp, nrendp/nrepp, bvecp/endp, rbvecp/rendp, nrbvecp/rbvecp, nrbvecp/nrendp,
    ccsig/ccom, ccsig/sig, rccom/rcp, nrccom/rccom, nrccom/nrcp, prccom/rccom, prccom/prcp, rsig/rbp, nrsig/rsig, nrsig/nrbp, prsig/rsig, prsig/prbp, rst/rsig, rst/rrs, nrst/rst, nrst/nrsig, nrst/nrrs, prst/rst, prst/prsig, prst/prrs, rrs/rbp, nrrs/rrs, nrrs/nrbp, prrs/rrs, prrs/prbp,
    ist/st, rist/rst, prist/rist, prist/prst, mapk/ist, rmapk/rist, prmapk/rmapk, prmapk/prist, pkb/ist, rpkb/rist, prpkb/rpkb, prpkb/prist, sgmst/ist, rsgmst/rist, prsgmst/rsgmst, prsgmst/prist, rasst/sgmst, rrasst/rsgmst, prrasst/rrasst, prrasst/prsgmst, rhopst/rasst, rrhost/rrasst, prrhost/rrhost, prrhost/prrasst,
    csrsp/st, elrp/csrsp, rtkp/elrp, fgfsp/rtkp, csrccs/csrsp, csrccs/ccsig, asp/st, rasp/rst, prasp/rasp, prasp/prst, rfgfsp/rcrgf, nrfgfsp/rfgfsp, nrfgfsp/nrcrgf,
    synsig/ccsig, tss/synsig, atss/tss, cst/atss, stc/cst, stg/cst, rtss/rccom, mcst/rtss, rstc/mcst, rstg/mcst, prst2/mcst, prstc/rstc, prstc/prst2, prstg/rstg, prstg/prst2, pmcst/mcst, rpsmp/rmp, epsp/rpsmp, mepsp/rpsmp, prepsp/mepsp,
    ndeath/cdeath, pcd/cdeath, nrcd/rcd, rpcd/rcd, prcd/rcd, apop/pcd, rnd/rcd, nrnd/rnd, nrnd/nrcd, prnd/rnd, prnd/prcd, nap/ndeath, nap/apop, nrpcd/rpcd, nrpcd/nrcd, rap/rpcd, prpcd/rpcd, prpcd/prcd, rnap/rap, rnap/rnd, nrap/rap, nrap/nrpcd, prap/rap, prap/prpcd, nrnap/rnap, nrnap/nrap, nrnap/nrnd,
    cmig/cmot, rcmot/rloc, nrcmot/rcmot, nrcmot/nrloc, rcmig/rcmot, nrcmig/rcmig, nrcmig/nrcmot, cpo/ccorg, pmbcpo/cpo, rpmbcpo/rcpo, rcpo/rccorg, nrcpo/rcpo, nrcpo/nrccorg, prcpo/rcpo, prcpo/prccorg, rccorg/rcp, nrccorg/rccorg, nrccorg/nrcp, prccorg/rccorg, prccorg/prcp, npd/pmbcpo, rnpd/rpmbcpo, prnpd/rnpd, prnpd/prcpo, nrnpd/rnpd, nrnpd/nrcpo,
    crs/rts, rchem/rts, rstress/rts, rabio/rts, dstim/rts, rext/rts, rmp/rbq, rendo/rchem, rnc/rchem, ros/rchem, crcs/rchem, crcs/crs, rocc/rchem, crst/rstress, crst/crs, rwound/rstress, rtemp/rabio, dabio/dstim, dabio/rabio, dext/dstim, dext/rext,
    rgf/rendo, crendo/rendo, crendo/crcs, rongc/rnc, rongc/ros, crnc/rnc, crnc/crcs, cros/ros, cros/crcs, crocc/rocc, crocc/crcs, crchs/crst, crchs/crcs, roxs/rstress, dtemp/dabio, dtemp/rtemp, dtemp/dext, rfgf/rgf, crgf/rgf, crgf/crendo, crongc/rongc, crongc/crnc, crongc/cros, rpep/rongc, croxs/roxs, croxs/crchs, crfgf/rfgf, crfgf/crgf, rcrgf/rrs, nrcrgf/rcrgf, crpep/rpep, crpep/crongc, rab/rpep, crab/rab, crab/crpep,
    mdep/rmp, rmmp/rmp, mitod/mdep, mitod/rmmp, rmdep/rmp, nrmdep/rmdep, rmitod/rmdep, nrmitod/rmitod, nrmitod/nrmdep, sysp/mop, nsp/sysp, rnsp/rsysp, prnsp/rnsp, sensp/nsp, spain/sensp, taxis/rext, taxis/locom, chemot/taxis, chemot/rchem, axens/ensh, myel/axens, prmyel/rmyel,
    cdp/cp, cdp/devp, cdiff/cdp, cdev/cdp, rcdiff/rdevp, prcdiff/rcdiff, ndiff/cdiff, rndiff/rcdiff, prndiff/rndiff, prndiff/prcdiff, ndev/cdev, cmorph/ccm, cmid/cmorph, cmind/cmid, cpm2/cmorph, cpmorph/cpm2, pmbcpm/cpmorph, npmorph/pmbcpm, axg/npmorph, axdev/npd, axguid/npg,
    rmop/rbp, prmop/rmop, prmop/prbp, nrmop/rmop, nrmop/nrbp, rdevp/rbp, prdevp/rdevp, nrdevp/rdevp, asd/devp, mod/asd, mod/mop, sysd/asd, nsd/sysd, molt/mop, hairc/molt, hcp/mcp, rhc/rmop, rhfd/rhc, nrhfd/rhfd, rnsd/rmod, rmod/rmop, rmod/rdevp, csd/sysd, nrvascd/rvascd, nrbvm/nrvascd, sangio/angio, nrangio/rangio, rangio/rvascd, rvascd/rmod, bvm/asm, tubem/asm, tubed/asd, tisd/asd, epit/tisd, epid/epit, sepd/epid, moe/tism, tism/asm, epim/tism, hfm/tism, aod/asd, aom/asm, asfm/asm, raom/rasm, praom/raom, rodont/raom, prodont/rodont, prodont/praom, odt/odont, rodt/rodont, prodt/rodt, prodt/prodont, artd/bvd, aortd/artd, daortd/aortd, rasm/rmod, dendd/npd, nrdsd/rdsd,
    mloc/loc, cloc/loc, rloc2/rbp, cml/mloc, cml/cloc, eloc/loc, ploc/mloc, rcloc/rloc2, elic/eloc, transp/eloc, rploc/rloc2, prploc/rploc, plo/ploc, eploc/ploc, eploc/eloc, itrans/elic, itrans/transp, nctrans/transp, ostrans/transp, ptrans/eploc, ptrans/nctrans, ptrans/ostrans, iptrans/itrans, iptrans/ptrans, plnuc/plo, rplnuc/rploc, prplnuc/rplnuc, prplnuc/prploc,
    rmf/rbp, prmf/rmf, rcat/rmf, prcat/rcat, prcat/prmf, rhyd/rcat, prhyd/rhyd, prhyd/prcat, rpept/rhyd, prpept/rpept, prpept/prhyd, rendpept/rpept, prendpept/rendpept, prendpept/prpept, rcysend/rendpept, prcysend/rcysend, prcysend/prendpept, rcysap/rcysend, prcysap/rcysap, prcysap/prcysend, actcys/prcysap,
    ncmp/metp, cmp/metp, osmp/metp, pmp/metp, rmetp/rbp, prmetp/rmetp, biosyn/metp, rosmp/metp, oncmp/ncmp, oncmp/osmp, rrosmp/rmetp, protmp/pmp, protmp/oncmp, proteol/protmp, rproteol/rprotmp, prproteol/rproteol, rprotmp/rpmp, prprotmp/rprotmp, rncmp/rmetp, prncmp/rncmp, prncmp/prmetp, rpmp/rmetp, rcmp/rmetp, prcmp/rcmp, prcmp/prmetp,
    cncmp/cmp, cncmp/ncmp, cacmp/cmp, hmp/cmp, occmp/osmp, mmp/pmp, mmp/osmp, nbcmp/cncmp, nbcmp/cacmp, nbcmp/hmp, nbcmp/occmp, rnbcmp/rcmp, prnbcmp/rnbcmp, prnbcmp/prcmp, rmmp2/rmetp, prmmp/rmmp2, prmmp/prmetp, cbp/biosyn, cbp/cmp, osbp/biosyn, osbp/osmp, cncbp/cbp, cncbp/cncmp, acbp/cbp, acbp/cacmp, hbp/osbp, hbp/hmp, occbp/osbp, occbp/occmp, gexp/mmp, rbiosyn/rmetp, mbp/biosyn, mbp/mmp,
    nametp/nbcmp, nametp/mmp, nbcbp/cncbp, nbcbp/acbp, nbcbp/hbp, nbcbp/occbp, nbcbp/nbcmp, rgexp/rmmp2, rcbp/rbiosyn, rcbp/rcmp, rmbp/rbiosyn, rmbp/rmmp2, prbiosyn/rbiosyn, prcbp/rcbp, prcbp/prbiosyn, prmbp/rmbp, prmbp/prbiosyn, crgexp/rgexp,
    rnamp/nametp, ncrna/rnamp, mirnamp/ncrna, rrnamp/rnbcmp, prrnamp/rrnamp, prrnamp/prnbcmp, rnabp/rnamp, rnabp/nbcbp, natt/rnabp, rrnabp/rrnamp, rrnabp/rcbp, prrnabp/rrnabp, prrnabp/prcbp, rnatt/rrnabp, prnatt/rnatt, prnatt/prrnabp, dtt/natt, rdtt/rnatt, prdtt/rdtt, prdtt/prnatt, rmirnamp/rrnamp, prmirnamp/rmirnamp, prmirnamp/prrnamp, mirnat/dtt, mirnat/mirnamp, rmirnat/rdtt, rmirnat/rmirnamp, prmirnat/rmirnat, prmirnat/prdtt, prmirnat/prmirnamp,
    circ/rhyth, chom/homeo, chemh/homeo, ichem/chom, ichem/chemh, carbh/chemh, glch/carbh, iglch/ichem, iglch/glch, homeo/rbq}
    \draw[isa] (\a) -- (\b);
  % part_of
  \foreach \a/\b in {espm/csurf, espm/pm, lem/cle, lem/pm, sidem/memb, pm/cper, ncb/somd, cbm/cbody, cbm/pm, pmr/pm, peri/ncb, presyn/syn, postsyn/syn, ncbm/ncb, cpm/pmbcp, dtree/somd, synm/syn, pss/postsyn, npm/nproj, dend/dtree, psm/presyn, psd/asyn, dmem/dend, iorg/ias, orglum/orgl, oenv/mbo, oenv/iorg, cyto/ias, iol/iorg, mito/cyto, golgi/cyto, golgi/endo, er/cyto, er/endo, cves/cyto, nenv/nucl, nenv/endo, nlum/nucl, nplasm/nlum,
    st/sig, st/crs, asp/apop, bvecp/sangio, cstp/cst, epsp/cstp, fgfsp/crfgf, npd/ndev, npg/chemot, axguid/axg, axg/axdev, axg/cmind, npg/npmorph, npmorph/npd, cdev/cdiff, neurog/nsd, genn/neurog, ndiff/genn, ndev/ndiff, cmid/cdev, cmind/ndev, sysd/mod, cnsd/nsd, tubed/mod, mcp/molt, hcp/hairc, hfd/hcp, hfd/skin, vascd/csd, bvm/bvd, bvd/vascd, angio/bvm, tubem/tubed, moe/epit, sepd/skin, tism/tisd, epim/epid, hfm/hfd, aom/aod, elic/cloc, iptrans/ploc, natt/gexp, nerved/nsd, dsd/dendd}
    \draw[partof] (\a) -- (\b);
  % regulates
  \foreach \a/\b in {rbp/bp, rcp/cp, rloc/locom, rcpp/cpp, rnpcp/npcp, rfibp/fibp, repp/epp, rendp/endp, rbvecp/bvecp, rccom/ccom, rsig/sig, rst/st, rrs/rts, rist/ist, rmapk/mapk, rpkb/pkb, rsgmst/sgmst, rrasst/rasst, rrhost/rhopst, rasp/asp, rfgfsp/fgfsp, rtss/tss, mcst/cst, rstc/stc, rstg/stg, mepsp/epsp, rcd/cdeath, rpcd/pcd, rnd/ndeath, rap/apop, rnap/nap, rcmot/cmot, rcmig/cmig, rccorg/ccorg, rcpo/cpo, rpmbcpo/pmbcpo, rnpd/npd, rcrgf/crgf, rmdep/mdep, rmitod/mitod, rnsp/nsp, rsysp/sysp, rmyel/myel, rcdiff/cdiff, rndiff/ndiff, rmop/mop, rdevp/devp, rhc/hairc, rhfd/hfd, rnsd/nsd, rmod/mod, rvascd/vascd, rangio/angio, rasm/asm, raom/aom, rodont/odont, rodt/odt, rloc2/loc, rcloc/cloc, rploc/ploc, rplnuc/plnuc, rproteol/proteol, rprotmp/protmp, rncmp/ncmp, rpmp/pmp, rcmp/cmp, rmetp/metp, rnbcmp/nbcmp, rmmp2/mmp, rrosmp/rosmp, rbiosyn/biosyn, rgexp/gexp, rcbp/cbp, rmbp/mbp, rrnamp/rnamp, rrnabp/rnabp, rnatt/natt, rdtt/dtt, rmirnamp/mirnamp, rmirnat/mirnat, rdsd/dsd}
    \draw[reg] (\a) -- (\b);
  % negatively regulates
  \foreach \a/\b in {nrbp/bp, nrcp/cp, nrloc/locom, nrcpp/cpp, nrepp/epp, nrendp/endp, nrbvecp/bvecp, nrccom/ccom, nrsig/sig, nrst/st, nrrs/rts, nrfgfsp/fgfsp, nrcd/cdeath, nrpcd/pcd, nrnd/ndeath, nrap/apop, nrnap/nap, nrcmot/cmot, nrcmig/cmig, nrccorg/ccorg, nrcpo/cpo, nrnpd/npd, nrcrgf/crgf, nrmdep/mdep, nrmitod/mitod, nrmop/mop, nrdevp/devp, nrhfd/hfd, nrvascd/vascd, nrbvm/bvm, nrangio/angio, nrdsd/dsd}
    \draw[negreg] (\a) -- (\b);
  % positively regulates
  \foreach \a/\b in {prbp/bp, prcp/cp, prcpp/cpp, prnpcp/npcp, prfibp/fibp, prccom/ccom, prsig/sig, prst/st, prrs/rts, prist/ist, prmapk/mapk, prpkb/pkb, prsgmst/sgmst, prrasst/rasst, prrhost/rhopst, prasp/asp, prst2/cst, prstc/stc, prstg/stg, prepsp/epsp, prcd/cdeath, prnd/ndeath, prpcd/pcd, prap/apop, prccorg/ccorg, prcpo/cpo, prnpd/npd, prnsp/nsp, prmyel/myel, prcdiff/cdiff, prndiff/ndiff, prmop/mop, prdevp/devp, praom/aom, prodont/odont, prodt/odt, prploc/ploc, prplnuc/plnuc, prproteol/proteol, prprotmp/protmp, prncmp/ncmp, prmetp/metp, prcmp/cmp, prnbcmp/nbcmp, prmmp/mmp, prbiosyn/biosyn, prcbp/cbp, prmbp/mbp, prrnamp/rnamp, prrnabp/rnabp, prnatt/natt, prdtt/dtt, prmirnamp/mirnamp, prmirnat/mirnat}
    \draw[posreg] (\a) -- (\b);
  \end{pgfonlayer}
\end{tikzpicture}
\end{document}
